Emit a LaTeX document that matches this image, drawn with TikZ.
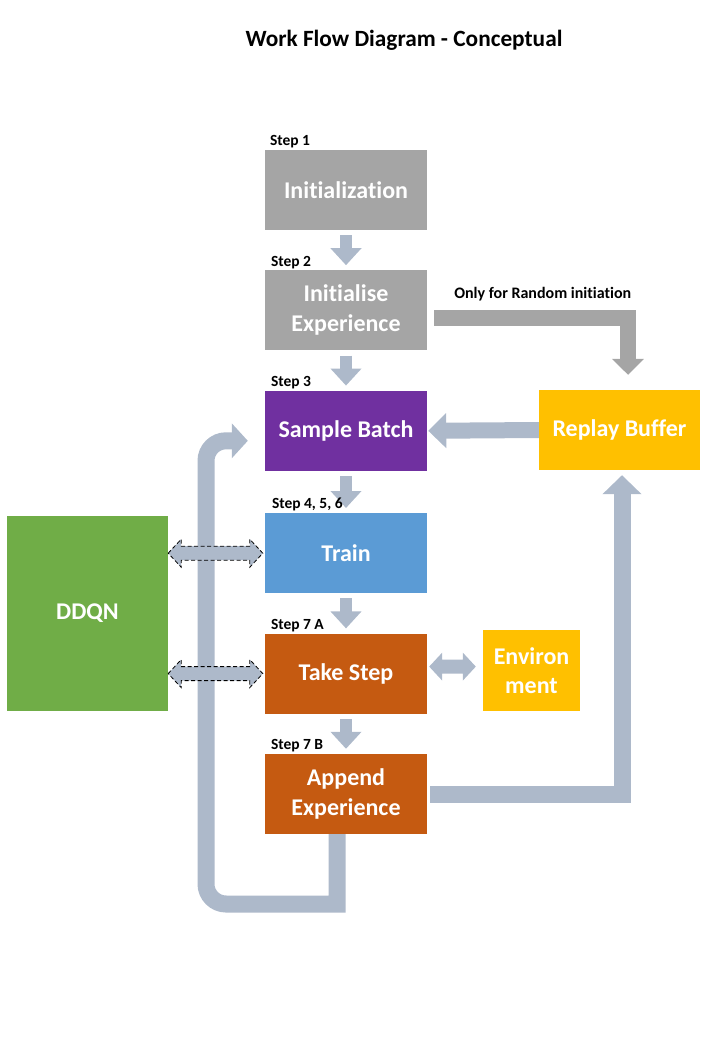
\documentclass[tikz,border=0pt]{standalone}
\usepackage{fontspec}
\setmainfont{Carlito}[Ligatures=NoCommon]
\usetikzlibrary{positioning}
\usetikzlibrary{calc}
\usetikzlibrary{arrows.meta}
\definecolor{initgray}{HTML}{A5A5A5}
\definecolor{batchpurple}{HTML}{7030A0}
\definecolor{trainblue}{HTML}{5B9BD5}
\definecolor{steporange}{HTML}{C55A11}
\definecolor{bufferyellow}{HTML}{FFC000}
\definecolor{netgreen}{HTML}{70AD47}
\definecolor{flowblue}{HTML}{ADB9CA}
\tikzset{
    block/.style={draw=none, text=white, align=center, inner sep=0pt,
        font=\bfseries\fontsize{24}{30}\selectfont,
        minimum width=162pt, minimum height=80pt},
    steplabel/.style={anchor=base west, inner sep=0pt,
        font=\bfseries\fontsize{15.5}{18}\selectfont},
    nextstep/.style={draw=flowblue, line width=12pt,
        -{Triangle[width=30pt,length=17pt]}, shorten <=5pt, shorten >=5pt},
    bigflow/.style={draw=flowblue, line width=16pt,
        -{Triangle[width=34pt,length=18pt]}},
    grayflow/.style={draw=initgray, line width=16pt,
        -{Triangle[width=31pt,length=16pt]}},
    netlink/.style={fill=flowblue, draw=black, line width=0.8pt,
        dash pattern=on 4pt off 2.5pt},
    envlink/.style={fill=flowblue},
}
% two way arrow, drawn as a polygon, from #2 to #3 (horizontal)
\newcommand{\twoway}[3][]{%
    \path[#1] let \p1=(#2), \p2=(#3) in
        (\x1,\y1) -- (\x1+13pt,\y1+14pt) -- (\x1+13pt,\y1+7pt)
        -- (\x2-13pt,\y1+7pt) -- (\x2-13pt,\y1+14pt) -- (\x2,\y1)
        -- (\x2-13pt,\y1-14pt) -- (\x2-13pt,\y1-7pt)
        -- (\x1+13pt,\y1-7pt) -- (\x1+13pt,\y1-14pt) -- cycle;}

\begin{document}
\begin{tikzpicture}[x=1pt, y=-1pt]

\useasboundingbox (0,0) rectangle (720,1040);

\node[font=\bfseries\fontsize{23.3}{28}\selectfont] (title) at (404,40) {Work Flow Diagram - Conceptual};

% main column
		\node[block, fill=initgray] (init) at (346,190) {Initialization};
		\node[block, fill=initgray, below=40pt of init] (initexp) {Initialise\\Experience};
		\node[block, fill=batchpurple, below=40pt of initexp] (sample) {Sample Batch};
		\node[block, fill=trainblue, below=42pt of sample] (train) {Train};
		\node[block, fill=steporange, below=40pt of train] (takestep) {Take Step};
		\node[block, fill=steporange, below=40pt of takestep] (append) {Append\\Experience};

% side boxes
		\node[block, fill=bufferyellow, minimum width=161pt] (replay) at (619.5,430) {Replay Buffer};
		\node[block, fill=bufferyellow, minimum width=97pt, minimum height=81pt,
			font=\bfseries\fontsize{24}{29}\selectfont] (env) at (531.5,670.5) {Environ\\ment};
		\node[block, fill=netgreen, minimum width=161pt, minimum height=195pt] (ddqn) at (87.5,613.5) {DDQN};

		\draw[nextstep] (init) -- (initexp);
		\draw[nextstep] (initexp) -- (sample);
		\draw[nextstep] (sample) -- (train);
		\draw[nextstep] (train) -- (takestep);
		\draw[nextstep] (takestep) -- (append);

		\node[steplabel] at ([xshift=5pt,yshift=4pt]init.north west) {Step 1};
		\node[steplabel] at ([xshift=6pt,yshift=4pt]initexp.north west) {Step 2};
		\node[steplabel] at ([xshift=6pt,yshift=4pt]sample.north west) {Step 3};
		\node[steplabel] at ([xshift=7pt,yshift=5pt]train.north west) {Step 4, 5, 6};
		\node[steplabel] at ([xshift=6pt,yshift=4pt]takestep.north west) {Step 7 A};
		\node[steplabel] at ([xshift=6pt,yshift=4pt]append.north west) {Step 7 B};

		\draw[grayflow] ([xshift=7pt,yshift=-8pt]initexp.east) -|
			node[pos=0.28, above=9pt, inner sep=0pt, font=\bfseries\fontsize{16}{18}\selectfont] {Only for Random initiation}
			([xshift=8.5pt,yshift=15pt]replay.north);
		\draw[bigflow] (replay.west) -- ([xshift=1pt]sample.east);
		\draw[bigflow, line width=17pt, -{Triangle[width=38pt,length=19pt]}]
			([xshift=3pt]append.east) -| ([xshift=2.5pt,yshift=-5pt]replay.south);

% loop back to the batch
		\coordinate (loopstart) at ([xshift=-9pt]append.south);
		\coordinate (loopturn) at (206,904);
		\coordinate (batchin) at ([xshift=-17pt,yshift=-10pt]sample.west);
		\draw[bigflow, line width=17pt, -{Triangle[width=34pt,length=16pt]}]
			(loopstart) -- (loopstart |- loopturn) [rounded corners=20pt]
			-- (loopturn) -- (loopturn |- batchin) -- (batchin);

		\twoway[netlink]{ddqn.east |- train.west}{[xshift=-2pt]train.west};
		\twoway[netlink]{ddqn.east |- takestep.west}{[xshift=-2pt]takestep.west};
		%\twoway[netlink]{ddqn.east}{train.west};
		\twoway[envlink]{[xshift=2pt,yshift=7pt]takestep.east}{[xshift=-7pt]env.west};

\end{tikzpicture}
\end{document}
